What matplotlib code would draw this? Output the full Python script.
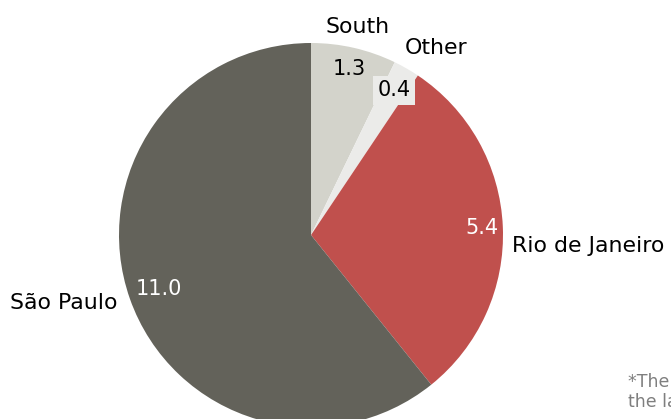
import numpy as np
import matplotlib.pyplot as plt

plt.rcParams['font.family'] = ['DejaVu Sans']

regions = ['South', 'Other', 'Rio de Janeiro', 'São Paulo']
values = [1.3, 0.4, 5.4, 11.0]
colors = ['#d3d3cb', '#ebebe9', '#c0504d', '#63625a']
value_colors = ['#000000', '#000000', '#ffffff', '#ffffff']

W, H = 671, 419
cx, cy, R = 311, H - 235, 192

fig = plt.figure(figsize=(W / 100, H / 100), dpi=100)
ax = fig.add_axes([0, 0, 1, 1])

wedges, _ = ax.pie(values, colors=colors, startangle=90, counterclock=False,
                   center=(cx, cy), radius=R, frame=True,
                   wedgeprops=dict(linewidth=0))
ax.set_xlim(0, W)
ax.set_ylim(0, H)
ax.set_aspect('equal')
ax.axis('off')

# value label radius, name label radius, angle shift, name alignment
val_r = [0.885, 0.87, 0.89, 0.84]
name_r = [1.11, 1.17, 1.05, 1.07]
name_shift = [0.3, -4, -5.5, 0]
name_ha = ['center', 'center', 'left', 'right']

for i, w in enumerate(wedges):
    mid = np.deg2rad((w.theta1 + w.theta2) / 2)
    vx = cx + val_r[i] * R * np.cos(mid)
    vy = cy + val_r[i] * R * np.sin(mid)
    bbox = None
    if regions[i] == 'Other':
        bbox = dict(boxstyle='square,pad=0.22', fc=colors[i], ec='none')
    ax.text(vx, vy, f'{values[i]:.1f}', color=value_colors[i], fontsize=15,
            ha='center', va='center', bbox=bbox)
    a = mid + np.deg2rad(name_shift[i])
    nx = cx + name_r[i] * R * np.cos(a)
    ny = cy + name_r[i] * R * np.sin(a)
    ax.text(nx, ny, regions[i], color='black', fontsize=15.8,
            ha=name_ha[i], va='center')

fig.text(628 / W, 1 - 392 / H, '*The values shown are in\nthe last reported period',
         color='#7f7f7f', fontsize=12.5, ha='left', va='center', linespacing=1.15)

fig.savefig('out.png', dpi=100)
